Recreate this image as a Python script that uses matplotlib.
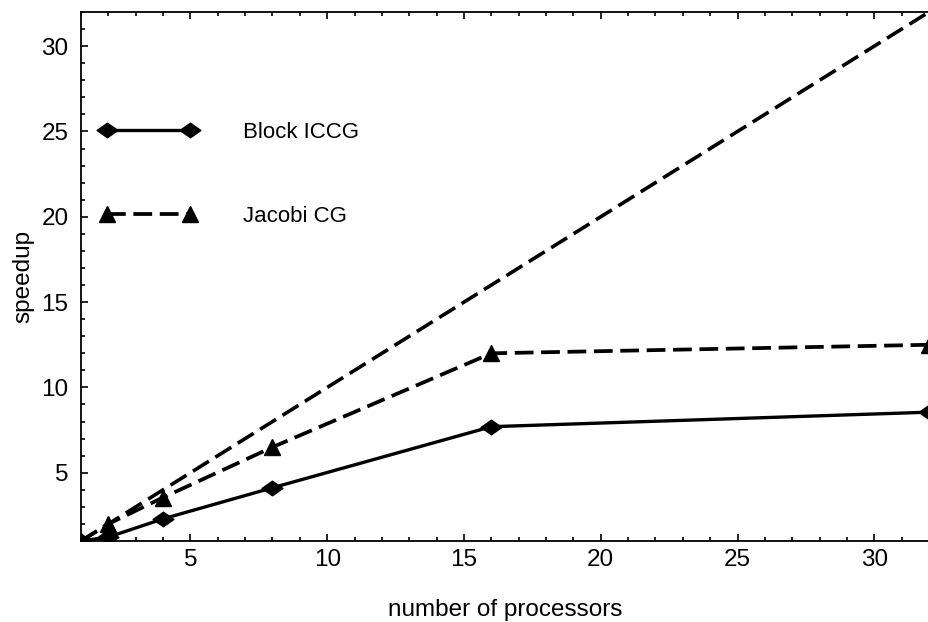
import matplotlib
matplotlib.use("Agg")
import matplotlib.pyplot as plt
from matplotlib.path import Path

plt.rcParams['font.family'] = ['Liberation Sans', 'DejaVu Sans']
plt.rcParams['lines.scale_dashes'] = False

# Processor counts and measured speedups
processors = [1, 2, 4, 8, 16, 32]
block_iccg = [1.0, 1.23, 2.3, 4.12, 7.7, 8.55]
jacobi_cg = [1.0, 2.0, 3.55, 6.5, 12.0, 12.5]
ideal_x = [1, 32]
ideal_y = [1, 32]

x_ticks = [5, 10, 15, 20, 25, 30]
y_ticks = [5, 10, 15, 20, 25, 30]

FS = 17.5
LEG_FS = 16

# Wide diamond marker
diamond = Path([(-1.0, 0.0), (0.0, 0.7), (1.0, 0.0), (0.0, -0.7), (-1.0, 0.0)],
               [Path.MOVETO, Path.LINETO, Path.LINETO, Path.LINETO, Path.CLOSEPOLY])

fig = plt.figure(figsize=(9.29, 6.22), dpi=100)
ax = fig.add_axes([0.0872, 0.1302, 0.9128, 0.8505])

dash = (0, (13.5, 5.5))

ax.plot(ideal_x, ideal_y, color='black', lw=2.6, linestyle=dash)
ax.plot(processors, block_iccg, color='black', lw=2.4, marker=diamond,
        markersize=15, label='Block ICCG')
ax.plot(processors, jacobi_cg, color='black', lw=2.7, linestyle=dash,
        marker='^', markersize=11.5, label='Jacobi CG')

ax.set_xlim(1, 32)
ax.set_ylim(1, 32)
ax.set_xticks(x_ticks)
ax.set_yticks(y_ticks)
ax.set_xticks(range(1, 33), minor=True)
ax.set_yticks(range(1, 33), minor=True)
ax.tick_params(which='both', direction='in', top=True, right=False,
               width=1.2, labelsize=FS)
ax.tick_params(which='major', length=5)
ax.tick_params(which='minor', length=3)
ax.tick_params(axis='x', pad=6)
ax.tick_params(axis='y', pad=9)
ax.spines['right'].set_visible(False)
for s in ('left', 'top', 'bottom'):
    ax.spines[s].set_linewidth(1.3)

ax.set_xlabel('number of processors', fontsize=FS, labelpad=20)
ax.set_ylabel('speedup', fontsize=FS, labelpad=5)

leg = ax.legend(loc='center left', bbox_to_anchor=(0.0224, 0.693), frameon=False,
                numpoints=2, handlelength=4.33, handletextpad=2.1,
                labelspacing=2.85, fontsize=LEG_FS, borderaxespad=0.0,
                borderpad=0.0)

fig.savefig('out.png', dpi=100)
